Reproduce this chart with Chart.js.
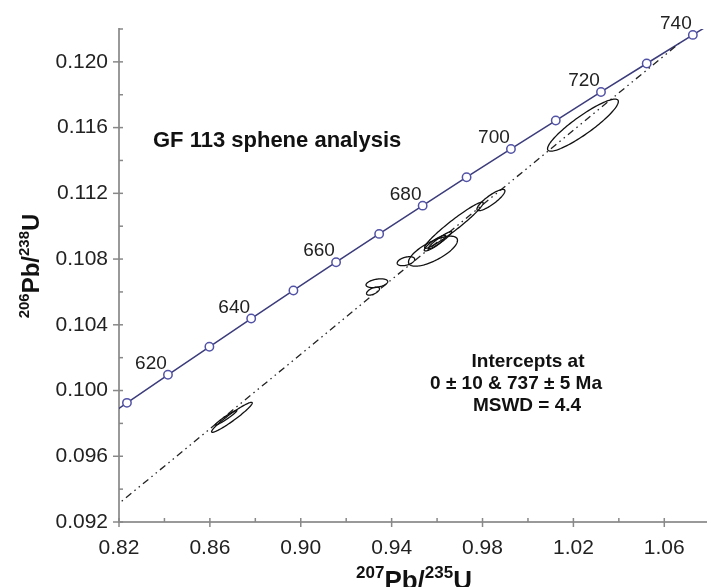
<!DOCTYPE html>
<html>
<head>
<meta charset="utf-8">
<script src="https://cdn.jsdelivr.net/npm/chart.js@4.4.1/dist/chart.umd.min.js"></script>
<style>
  html, body { margin: 0; padding: 0; background: #fff; }
  #wrap { width: 707px; height: 587px; }
</style>
</head>
<body>
<div id="wrap"><canvas id="conc"></canvas></div>
<script>
// concordia curve (age in Ma, 207Pb/235U, 206Pb/238U)
const ages = [600, 610, 620, 630, 640, 650, 660, 670, 680, 690, 700, 710, 720, 730, 740, 750];
const concX = [0.80563, 0.82350, 0.84155, 0.85978, 0.87818, 0.89677, 0.91554, 0.93450, 0.95365, 0.97298, 0.99251, 1.01223, 1.03214, 1.05226, 1.07257, 1.09308];
const concY = [0.09754, 0.09925, 0.10096, 0.10266, 0.10438, 0.10609, 0.10781, 0.10953, 0.11125, 0.11298, 0.11470, 0.11643, 0.11817, 0.11990, 0.12164, 0.12338];
const markedAges = [610, 620, 630, 640, 650, 660, 670, 680, 690, 700, 710, 720, 730, 740];
const labelAges = [620, 640, 660, 680, 700, 720, 740];

// discordia: lower intercept 0 Ma, upper intercept 737 Ma
const discX = [0, 1.0665];
const discY = [0, 0.12112];

// analyses (center, 2 sigma errors, error correlation)
const ellX   = [0.8697, 0.8671, 1.0242, 0.9582, 0.9674, 0.9837, 0.9591, 0.9613, 0.9463, 0.9335, 0.9318];
const ellY   = [0.09837, 0.09834, 0.11615, 0.10848, 0.11006, 0.11159, 0.10897, 0.10915, 0.10787, 0.10653, 0.10605];
const ellSx  = [0.00895, 0.00476, 0.01558, 0.01078, 0.01289, 0.00616, 0.00475, 0.0051, 0.00385, 0.00478, 0.00285];
const ellSy  = [0.000911, 0.000449, 0.001584, 0.000913, 0.001406, 0.000648, 0.000478, 0.00052, 0.000275, 0.000267, 0.000245];
const ellRho = [0.958, 0.969, 0.907, 0.72, 0.963, 0.858, 0.888, 0.94, 0.412, 0.378, 0.589];

const xTicks = [0.82, 0.86, 0.90, 0.94, 0.98, 1.02, 1.06];
const yTicks = [0.092, 0.096, 0.100, 0.104, 0.108, 0.112, 0.116, 0.120];

const FONT = '"Liberation Sans", Arial, Helvetica, sans-serif';

const concPts = ages.map((a, i) => ({ x: concX[i], y: concY[i] }));
const concRadius = ages.map(a => markedAges.includes(a) ? 4.2 : 0);

// error ellipses
const ellipsePlugin = {
  id: 'ellipses',
  afterDatasetsDraw(chart) {
    const { ctx, chartArea, scales } = chart;
    ctx.save();
    ctx.beginPath();
    ctx.rect(chartArea.left, chartArea.top, chartArea.right - chartArea.left, chartArea.bottom - chartArea.top);
    ctx.clip();
    ctx.strokeStyle = '#111';
    ctx.lineWidth = 1.3;
    for (let k = 0; k < ellX.length; k++) {
      const r = ellRho[k], q = Math.sqrt(1 - r * r);
      ctx.beginPath();
      for (let s = 0; s <= 120; s++) {
        const t = s / 120 * Math.PI * 2;
        const vx = ellX[k] + ellSx[k] * Math.cos(t);
        const vy = ellY[k] + ellSy[k] * (r * Math.cos(t) + q * Math.sin(t));
        const px = scales.x.getPixelForValue(vx), py = scales.y.getPixelForValue(vy);
        if (s === 0) ctx.moveTo(px, py); else ctx.lineTo(px, py);
      }
      ctx.closePath();
      ctx.stroke();
    }
    ctx.restore();
  }
};

// ticks, age labels, annotations, axis titles
const decorPlugin = {
  id: 'decor',
  afterDraw(chart) {
    const { ctx, chartArea, scales } = chart;
    const xs = scales.x, ys = scales.y;
    ctx.save();
    ctx.strokeStyle = '#888';
    ctx.lineWidth = 1.5;
    // x ticks
    for (let k = 0; k < 13; k++) {
      const v = 0.82 + k * 0.02;
      const px = xs.getPixelForValue(v);
      const major = k % 2 === 0;
      ctx.beginPath();
      ctx.moveTo(px, chartArea.bottom - 4);
      ctx.lineTo(px, chartArea.bottom + (major ? 5 : 0));
      ctx.stroke();
    }
    // y ticks
    for (let k = 0; k < 16; k++) {
      const v = 0.092 + k * 0.002;
      const py = ys.getPixelForValue(v);
      const major = k % 2 === 0;
      ctx.beginPath();
      ctx.moveTo(chartArea.left + 4, py);
      ctx.lineTo(chartArea.left - (major ? 6 : 0), py);
      ctx.stroke();
    }

    // age labels on concordia
    ctx.fillStyle = '#222';
    ctx.font = '19px ' + FONT;
    ctx.textAlign = 'center';
    ctx.textBaseline = 'middle';
    labelAges.forEach(a => {
      const i = ages.indexOf(a);
      ctx.fillText(String(a), xs.getPixelForValue(concX[i]) - 17, ys.getPixelForValue(concY[i]) - 11);
    });

    // annotations
    ctx.fillStyle = '#111';
    ctx.font = 'bold 22px ' + FONT;
    ctx.textAlign = 'left';
    ctx.fillText('GF 113 sphene analysis', 153, 141);
    ctx.font = 'bold 19px ' + FONT;
    ctx.textAlign = 'center';
    ctx.fillText('Intercepts at', 528, 362);
    ctx.fillText('0 \u00b1 10 & 737 \u00b1 5 Ma', 516, 384);
    ctx.fillText('MSWD = 4.4', 527, 406);

    // axis titles with superscripts
    const drawTitle = (parts, x, y) => {
      let w = 0;
      parts.forEach(p => { ctx.font = p[2]; w += ctx.measureText(p[0]).width; });
      let cx = x - w / 2;
      ctx.textAlign = 'left';
      ctx.textBaseline = 'alphabetic';
      parts.forEach(p => {
        ctx.font = p[2];
        ctx.fillText(p[0], cx, y + p[1]);
        cx += ctx.measureText(p[0]).width;
      });
    };
    const big = 'bold 26px ' + FONT, sup = 'bold 17px ' + FONT;
    ctx.fillStyle = '#111';
    drawTitle([['207', -11, sup], ['Pb/', 0, big], ['235', -11, sup], ['U', 0, big]], 414, 589);
    ctx.save();
    ctx.translate(39, 266);
    ctx.rotate(-Math.PI / 2);
    const bigY = 'bold 24px ' + FONT, supY = 'bold 15px ' + FONT;
    drawTitle([['206', -10, supY], ['Pb/', 0, bigY], ['238', -10, supY], ['U', 0, bigY]], 0, 0);
    ctx.restore();
    ctx.restore();
  }
};

new Chart(document.getElementById('conc'), {
  type: 'scatter',
  data: {
    datasets: [
      {
        label: 'discordia',
        data: discX.map((x, i) => ({ x: x, y: discY[i] })),
        showLine: true,
        borderColor: '#222',
        borderWidth: 1.3,
        borderDash: [7, 4, 1.5, 4, 1.5, 4],
        pointRadius: 0
      },
      {
        label: 'concordia',
        data: concPts,
        showLine: true,
        borderColor: '#3c3c7c',
        borderWidth: 1.5,
        pointRadius: concRadius,
        pointBackgroundColor: '#fff',
        pointBorderColor: '#5252a6',
        pointBorderWidth: 1.5
      }
    ]
  },
  options: {
    responsive: true,
    maintainAspectRatio: false,
    animation: false,
    layout: { padding: { top: 29, right: 0, left: 0, bottom: 0 } },
    plugins: { legend: { display: false }, tooltip: { enabled: false } },
    scales: {
      x: {
        type: 'linear',
        min: 0.82,
        max: 1.0788,
        afterFit: s => { s.height = 65; },
        afterBuildTicks: s => { s.ticks = xTicks.map(v => ({ value: v })); },
        grid: { display: false },
        border: { color: '#999', width: 2 },
        ticks: {
          padding: 6,
          color: '#222',
          font: { family: FONT, size: 21 },
          callback: v => v.toFixed(2)
        }
      },
      y: {
        type: 'linear',
        min: 0.092,
        max: 0.122,
        afterFit: s => { s.width = 119; },
        afterBuildTicks: s => { s.ticks = yTicks.map(v => ({ value: v })); },
        grid: { display: false },
        border: { color: '#999', width: 2 },
        ticks: {
          padding: 3,
          color: '#222',
          font: { family: FONT, size: 21 },
          callback: v => v.toFixed(3)
        }
      }
    }
  },
  plugins: [ellipsePlugin, decorPlugin]
});
</script>
</body>
</html>
